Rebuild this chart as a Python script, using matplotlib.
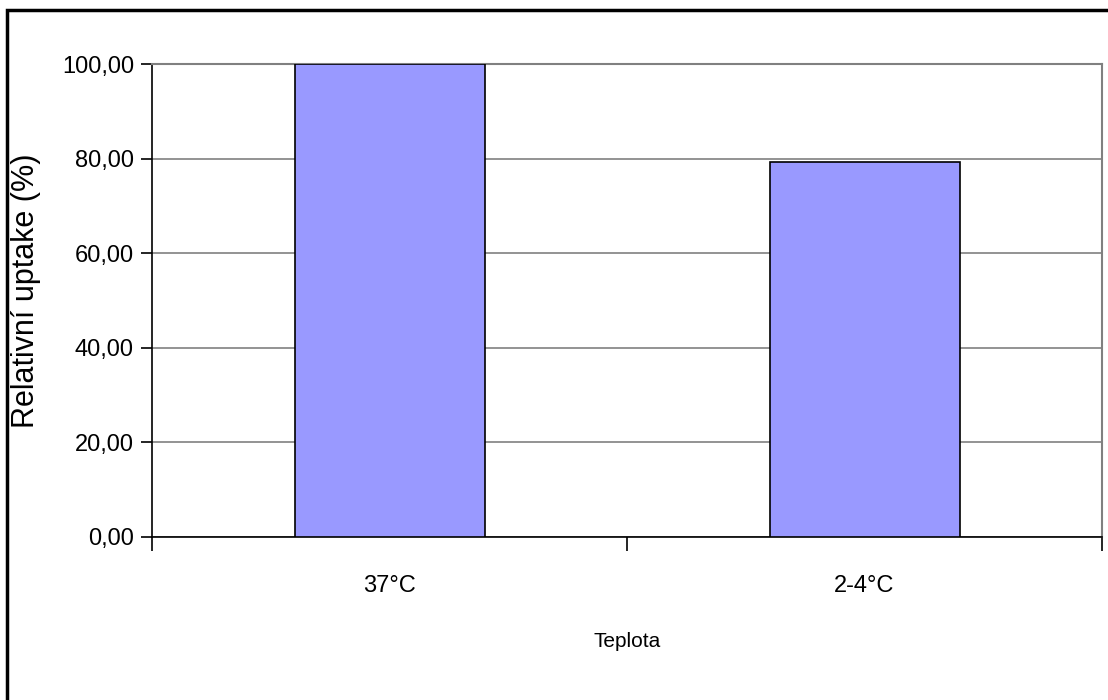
import matplotlib
matplotlib.use("Agg")
import matplotlib.pyplot as plt
from matplotlib.patches import Rectangle
from matplotlib.ticker import FuncFormatter, FixedLocator, NullFormatter

# data
teploty = ["37°C", "2-4°C"]
uptake = [100.0, 79.3]

plt.rcParams['font.family'] = ['Liberation Sans Narrow', 'Liberation Sans', 'DejaVu Sans']

fig = plt.figure(figsize=(11.08, 7.0), dpi=100)
ax = fig.add_axes([152 / 1108, 1 - 537 / 700, 950 / 1108, 473 / 700])

x = list(range(len(teploty)))
ax.bar(x, uptake, width=0.4, color="#9999ff", edgecolor="black", linewidth=1.2, zorder=3)

ax.set_xlim(-0.5, len(teploty) - 0.5)
ax.set_ylim(0, 100)

# y osa
ax.set_yticks([0, 20, 40, 60, 80, 100])
ax.yaxis.set_major_formatter(FuncFormatter(lambda v, p: f"{v:.2f}".replace(".", ",")))
ax.yaxis.grid(True, color="#808080", linewidth=1.2, zorder=0)
ax.tick_params(axis="y", direction="out", length=8, width=1.2, labelsize=17, pad=5)

# x osa: popisky uprostred, carky na hranicich kategorii
ax.set_xticks(x)
ax.set_xticklabels(teploty)
ax.tick_params(axis="x", which="major", length=0, labelsize=17, pad=27)
ax.xaxis.set_minor_locator(FixedLocator([-0.5, 0.5, 1.5]))
ax.xaxis.set_minor_formatter(NullFormatter())
ax.tick_params(axis="x", which="minor", direction="out", length=10, width=1.2)

for s in ["left", "bottom"]:
    ax.spines[s].set_color("black")
    ax.spines[s].set_linewidth(1.2)
for s in ["top", "right"]:
    ax.spines[s].set_color("#808080")
    ax.spines[s].set_linewidth(1.5)

ax.set_ylabel("Relativní uptake (%)", fontsize=22)
ax.yaxis.set_label_coords((41 - 152) / 950, 0.52)
ax.set_xlabel("Teplota", fontsize=15)
ax.xaxis.set_label_coords(0.5, -(632 - 537) / 473)

# ramecek kolem celeho grafu
fig.patches.append(Rectangle((7 / 1108, -0.1), 1.2, 1.1 - 10 / 700, transform=fig.transFigure,
                             fill=False, edgecolor="black", linewidth=2.5))

fig.savefig("out.png", dpi=100)
